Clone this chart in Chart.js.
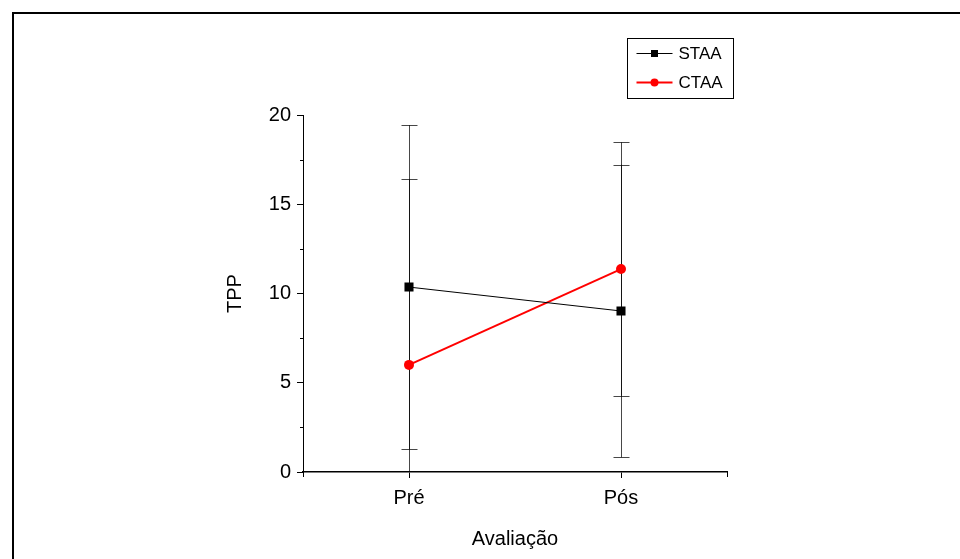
<!DOCTYPE html>
<html>
<head>
<meta charset="utf-8">
<script src="https://cdn.jsdelivr.net/npm/chart.js@4.4.1/dist/chart.umd.min.js"></script>
<style>
  html, body { margin: 0; padding: 0; background: #fff; }
  #wrap { position: relative; width: 960px; height: 559px; overflow: hidden; }
  #frame { position: absolute; left: 12px; top: 12px; width: 1000px; height: 600px; border: 2px solid #000; box-sizing: border-box; }
  canvas { position: absolute; left: 0; top: 0; }
</style>
</head>
<body>
<div id="wrap">
  <div id="frame"></div>
  <canvas id="c" width="960" height="559"></canvas>
</div>
<script>
// ---- data ----
const categories = ['Pré', 'Pós'];
const staaValues = [10.36, 9.02];
const staaErrors = [9.07, 8.20];
const ctaaValues = [6.00, 11.37];
const ctaaErrors = [10.40, 7.10];
const seriesNames = ['STAA', 'CTAA'];
const yTickValues = [0, 5, 10, 15, 20];
const yMinorTickValues = [2.5, 7.5, 12.5, 17.5];

const FONT = "'Liberation Sans', Arial, sans-serif";

const errorBarPlugin = {
  id: 'errorBars',
  beforeDatasetsDraw(chart) {
    const ctx = chart.ctx;
    const y = chart.scales.y, x = chart.scales.x;
    const area = chart.chartArea;
    ctx.save();
    ctx.strokeStyle = 'rgba(0,0,0,0.72)';
    ctx.lineWidth = 1;
    chart.data.datasets.forEach(ds => {
      ds.data.forEach((v, i) => {
        const e = ds.errors[i];
        const px = Math.round(x.getPixelForValue(i)) + 0.5;
        const hiV = v + e, loV = v - e;
        const top = Math.max(y.getPixelForValue(hiV), area.top);
        const bot = Math.min(y.getPixelForValue(loV), area.bottom);
        ctx.beginPath();
        ctx.moveTo(px, top); ctx.lineTo(px, bot);
        ctx.stroke();
        const cap = 8;
        [hiV, loV].forEach(val => {
          if (val >= y.min && val <= y.max) {
            const py = Math.round(y.getPixelForValue(val)) + 0.5;
            ctx.beginPath();
            ctx.moveTo(px - cap, py); ctx.lineTo(px + cap, py);
            ctx.stroke();
          }
        });
      });
    });
    ctx.restore();
  }
};

const extraTicksPlugin = {
  id: 'extraTicks',
  afterDraw(chart) {
    const ctx = chart.ctx;
    const y = chart.scales.y;
    const area = chart.chartArea;
    ctx.save();
    ctx.strokeStyle = '#000';
    ctx.lineWidth = 1;
    yMinorTickValues.forEach(v => {
      const py = Math.round(y.getPixelForValue(v)) + 0.5;
      ctx.beginPath();
      ctx.moveTo(area.left - 3, py); ctx.lineTo(area.left, py);
      ctx.stroke();
    });
    [area.left, area.right].forEach(px => {
      ctx.beginPath();
      ctx.moveTo(Math.round(px) + 0.5, area.bottom);
      ctx.lineTo(Math.round(px) + 0.5, area.bottom + 5);
      ctx.stroke();
    });
    ctx.restore();
  }
};

const boxLegendPlugin = {
  id: 'boxLegend',
  afterDraw(chart) {
    const ctx = chart.ctx;
    const area = chart.chartArea;
    const left = area.right - 99.5, top = area.top - 76.5;
    const w = 106, h = 60;
    ctx.save();
    ctx.strokeStyle = '#000';
    ctx.lineWidth = 1;
    ctx.strokeRect(left, top, w, h);
    chart.data.datasets.forEach((ds, i) => {
      const cy = top + 15 + i * 29;
      ctx.strokeStyle = ds.borderColor;
      ctx.lineWidth = ds.borderWidth;
      ctx.beginPath();
      ctx.moveTo(left + 9, cy); ctx.lineTo(left + 45, cy);
      ctx.stroke();
      ctx.fillStyle = ds.pointBackgroundColor;
      if (ds.pointStyle === 'rect') {
        ctx.fillRect(left + 27 - 3.5, cy - 3.5, 7, 7);
      } else {
        ctx.beginPath();
        ctx.arc(left + 27, cy, 4, 0, Math.PI * 2);
        ctx.fill();
      }
      ctx.fillStyle = '#000';
      ctx.font = "17px " + FONT;
      ctx.textBaseline = 'middle';
      ctx.fillText(ds.label, left + 51, cy + 1);
    });
    ctx.restore();
  }
};

new Chart(document.getElementById('c'), {
  type: 'line',
  data: {
    labels: categories,
    datasets: [
      {
        label: seriesNames[0],
        data: staaValues,
        errors: staaErrors,
        borderColor: '#000',
        borderWidth: 1,
        pointStyle: 'rect',
        pointRadius: 6.4,
        pointBackgroundColor: '#000',
        pointBorderWidth: 0,
        tension: 0
      },
      {
        label: seriesNames[1],
        data: ctaaValues,
        errors: ctaaErrors,
        borderColor: '#ff0000',
        borderWidth: 2,
        pointStyle: 'circle',
        pointRadius: 5,
        pointBackgroundColor: '#ff0000',
        pointBorderWidth: 0,
        tension: 0
      }
    ]
  },
  options: {
    responsive: false,
    animation: false,
    devicePixelRatio: 1,
    layout: { padding: { left: 219, right: 233, top: 115, bottom: 4 } },
    plugins: { legend: { display: false }, tooltip: { enabled: false } },
    scales: {
      x: {
        type: 'category',
        offset: true,
        afterFit: s => { s.height = 83; },
        grid: { drawOnChartArea: false, tickLength: 6, color: '#000', offset: false },
        border: { color: '#000', width: 1.5 },
        ticks: { color: '#000', font: { family: FONT, size: 20 }, padding: 8 },
        title: { display: true, text: 'Avaliação', color: '#000', font: { family: FONT, size: 20 }, padding: { top: 4, bottom: 4 } }
      },
      y: {
        min: 0, max: 20,
        afterFit: s => { s.width = 84; },
        afterBuildTicks: s => { s.ticks = yTickValues.map(v => ({ value: v })); },
        grid: { drawOnChartArea: false, tickLength: 6, color: '#000' },
        border: { color: '#000', width: 1 },
        ticks: { color: '#000', font: { family: FONT, size: 20 }, padding: 6 },
        title: { display: true, text: 'TPP', color: '#000', font: { family: FONT, size: 20 }, padding: { top: 4, bottom: 4 } }
      }
    }
  },
  plugins: [errorBarPlugin, extraTicksPlugin, boxLegendPlugin]
});
</script>
</body>
</html>
